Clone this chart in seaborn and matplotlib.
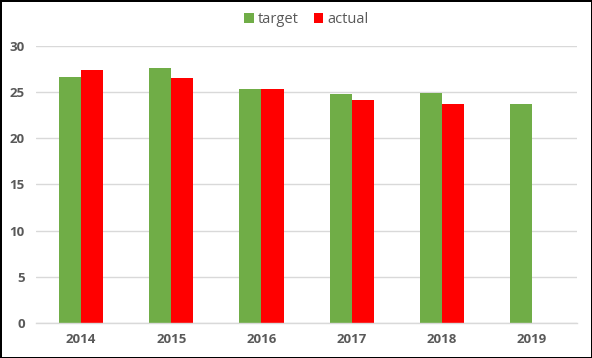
import pandas as pd
import numpy as np
import matplotlib
matplotlib.use("Agg")
import matplotlib.pyplot as plt
import seaborn as sns

# ---- data ----
years = ["2014", "2015", "2016", "2017", "2018", "2019"]
target = [26.65, 27.6, 25.35, 24.8, 24.9, 23.7]
actual = [27.4, 26.5, 25.35, 24.15, 23.7, np.nan]

df = pd.DataFrame({
    "year": years * 2,
    "value": target + actual,
    "series": ["target"] * len(years) + ["actual"] * len(years),
})

sns.set_theme(style="white")
plt.rcParams['font.family'] = ['Open Sans', 'DejaVu Sans']

fig = plt.figure(figsize=(5.92, 3.58), dpi=100)
ax = fig.add_axes([0.0608, 0.0978, 0.9139, 0.7737])

sns.barplot(data=df, x="year", y="value", hue="series", order=years,
            hue_order=["target", "actual"],
            palette={"target": "#70AD47", "actual": "#FF0000"},
            width=0.49, saturation=1, errorbar=None, ax=ax, dodge=True,
            linewidth=0, edgecolor="none")

ax.set_ylim(0, 30)
ax.set_yticks(range(0, 31, 5))
ax.set_xlim(-0.5, len(years) - 0.5)
ax.grid(axis="y", color="#D9D9D9", linewidth=1)
ax.set_axisbelow(True)
for s in ["left", "right", "top"]:
    ax.spines[s].set_visible(False)
ax.spines["bottom"].set_color("#D9D9D9")
ax.spines["bottom"].set_linewidth(1)
ax.tick_params(axis="both", length=0, labelsize=9.5, labelcolor="#595959")
ax.tick_params(axis="x", pad=7)
ax.tick_params(axis="y", pad=8)
for lbl in ax.get_xticklabels() + ax.get_yticklabels():
    lbl.set_fontweight("bold")
ax.set_xlabel("")
ax.set_ylabel("")

ax.legend(loc="upper center", bbox_to_anchor=(0.5, 1.17), ncol=2, frameon=False,
          fontsize=10.5, labelcolor="#595959", handlelength=0.65, handleheight=0.65,
          handletextpad=0.3, columnspacing=1.0)

fig.patch.set_edgecolor("black")
fig.patch.set_linewidth(2)

fig.savefig("out.png", dpi=100, edgecolor=fig.get_edgecolor())
